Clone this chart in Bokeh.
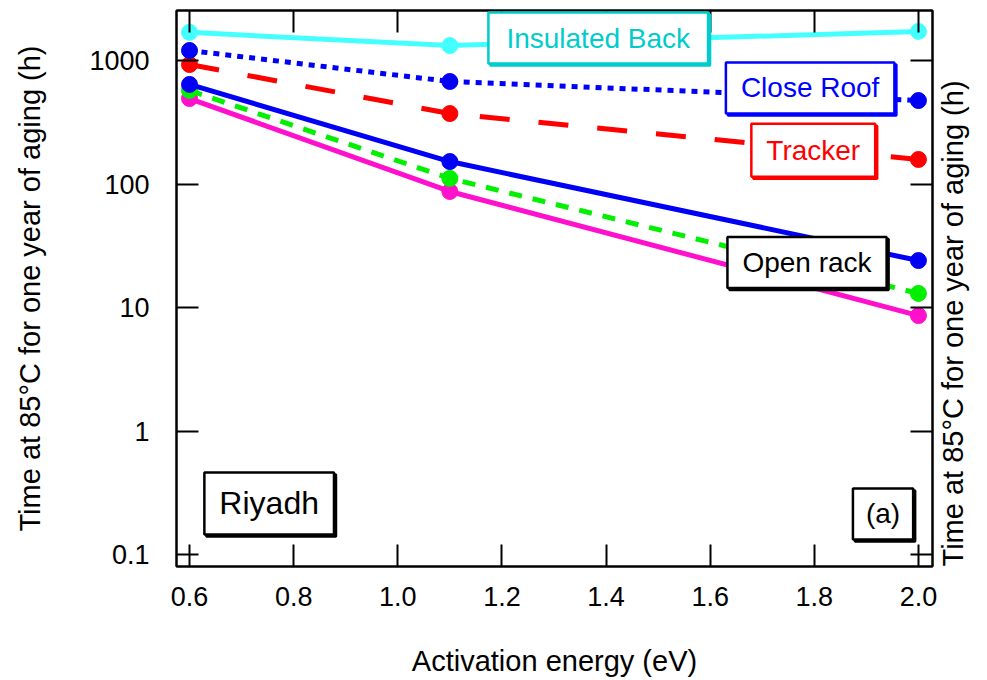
import math
from bokeh.plotting import figure
from bokeh.models import (LinearAxis, LogAxis, FixedTicker, PrintfTickFormatter,
                          CustomJSTickFormatter, Label, ColumnDataSource)
from bokeh.embed import file_html
from bokeh.resources import INLINE

# ---- data ----
activation_energy = [0.6, 1.1, 2.0]
insulated_back = [1690, 1320, 1720]
close_roof = [1205, 676, 474]
tracker = [928, 372, 158]
open_rack = [640, 152, 24]
unlabeled_green = [572, 111, 13]
unlabeled_magenta = [492, 87, 8.6]

x_ticks = [0.6, 0.8, 1.0, 1.2, 1.4, 1.6, 1.8, 2.0]
y_ticks = [0.1, 1, 10, 100, 1000]
x_title = "Activation energy (eV)"
y_title = "Time at 85°C for one year of aging (h)"

FONT = "Liberation Sans"

p = figure(width=987, height=680, y_axis_type="log",
           x_range=(0.575, 2.027), y_range=(0.08, 2540),
           output_backend="svg", toolbar_location=None,
           min_border_left=176, min_border_right=52,
           min_border_top=10, min_border_bottom=114)
p.xgrid.visible = False
p.ygrid.visible = False
p.outline_line_color = "black"
p.outline_line_width = 2
p.background_fill_color = "white"
p.border_fill_color = "white"

series = [
    (unlabeled_magenta, "#FF10CC", None),
    (unlabeled_green, "#00F000", "13 11"),
    (open_rack, "#0000F5", None),
    (tracker, "#FF0000", "30 29"),
    (close_roof, "#0000F5", "6 6"),
    (insulated_back, "#44FFFF", None),
]
for vals, col, dash in series:
    src = ColumnDataSource(dict(x=activation_energy, y=vals))
    kw = dict(line_dash=dash) if dash else {}
    p.line("x", "y", source=src, line_color=col, line_width=5, **kw)
    p.scatter("x", "y", source=src, size=16, fill_color=col, line_color=col)

def style_axis(ax, labels=True):
    ax.axis_line_width = 2
    ax.axis_line_color = "black"
    ax.major_tick_line_width = 2
    ax.major_tick_line_color = "black"
    ax.major_tick_in = 22
    ax.major_tick_out = 0
    ax.minor_tick_in = 0
    ax.minor_tick_out = 0
    ax.major_label_text_font = FONT
    ax.major_label_text_color = "black"
    ax.axis_label_text_font = FONT
    ax.axis_label_text_font_style = "normal"
    ax.axis_label_text_font_size = "29px"
    ax.axis_label_text_color = "black"
    if labels:
        ax.major_label_text_font_size = "27px"
    else:
        ax.major_label_text_font_size = "0px"
        ax.major_label_standoff = 0

xt = FixedTicker(ticks=x_ticks, minor_ticks=[])
yt = FixedTicker(ticks=y_ticks, minor_ticks=[])
yfmt = CustomJSTickFormatter(code="return tick >= 1 ? tick.toFixed(0) : tick.toFixed(1);")

xa = p.xaxis[0]
xa.ticker = xt
xa.formatter = PrintfTickFormatter(format="%.1f")
style_axis(xa)
xa.major_label_standoff = 20
xa.axis_label = x_title
xa.axis_label_standoff = 36

ya = p.yaxis[0]
ya.ticker = yt
ya.formatter = yfmt
style_axis(ya)
ya.major_label_standoff = 27
ya.axis_label = y_title
ya.axis_label_standoff = 40

top = LinearAxis(ticker=xt)
style_axis(top, labels=False)
p.add_layout(top, "above")

right = LogAxis(ticker=yt, formatter=yfmt)
style_axis(right, labels=False)
right.axis_label = y_title
right.axis_label_standoff = 20
right.axis_label_orientation = math.pi / 2
if "axis_label_align" in right.properties():
    right.axis_label_align = "start"
p.add_layout(right, "right")

# ---- boxed labels (with offset shadow) ----
boxes = [
    ("Insulated Back", 1.385, 1520, "#00CCCC", "28px", (18, 10)),
    ("Close Roof", 1.792, 599, "#0000FF", "28px", (15, 10)),
    ("Tracker", 1.798, 188, "#FF0000", "28px", (15, 11)),
    ("Open rack", 1.786, 23.1, "black", "28px", (15, 10)),
    ("Riyadh", 0.753, 0.259, "black", "32px", (15, 13)),
    ("(a)", 1.932, 0.213, "black", "28px", (13, 10)),
]
for txt, bx, by, col, fs, pad in boxes:
    shadow = Label(x=bx, y=by, text=txt, text_align="center", text_baseline="middle",
                   text_font=FONT, text_font_size=fs, text_color=col,
                   x_offset=2, y_offset=-2, padding=pad,
                   background_fill_color=col, border_line_color=col,
                   border_line_width=2.5)
    main = Label(x=bx, y=by, text=txt, text_align="center", text_baseline="middle",
                 text_font=FONT, text_font_size=fs, text_color=col,
                 padding=pad, background_fill_color="white",
                 border_line_color=col, border_line_width=2.5)
    p.add_layout(shadow)
    p.add_layout(main)

open("out.html", "w").write(file_html(p, INLINE))
